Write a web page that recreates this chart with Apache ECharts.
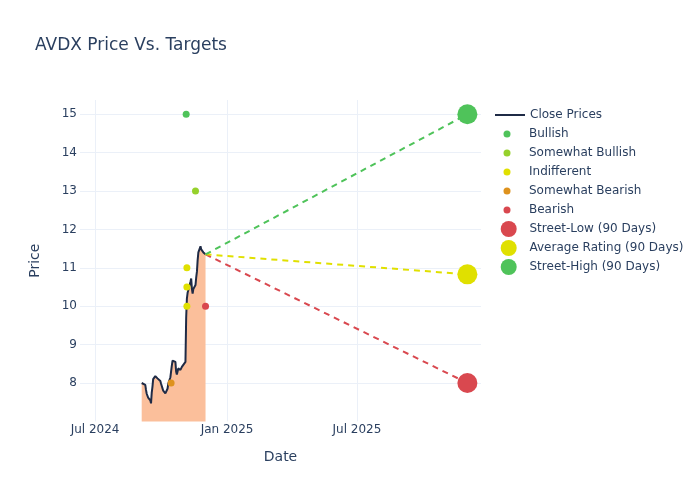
<!DOCTYPE html>
<html>
<head>
<meta charset="utf-8">
<script src="https://cdn.jsdelivr.net/npm/echarts@6/dist/echarts.min.js"></script>
<style>
  html, body { margin: 0; padding: 0; background: #fff; }
  #chart { width: 700px; height: 500px; }
</style>
</head>
<body>
<div id="chart"></div>
<script>
// close prices
const closeDates = [
  '2024-09-04', '2024-09-05', '2024-09-06', '2024-09-09', '2024-09-10', '2024-09-11', '2024-09-12',
  '2024-09-13', '2024-09-16', '2024-09-17', '2024-09-18', '2024-09-19', '2024-09-20', '2024-09-23',
  '2024-09-24', '2024-09-25', '2024-09-26', '2024-09-27', '2024-09-30', '2024-10-01', '2024-10-02',
  '2024-10-03', '2024-10-04', '2024-10-07', '2024-10-08', '2024-10-09', '2024-10-10', '2024-10-11',
  '2024-10-14', '2024-10-15', '2024-10-16', '2024-10-17', '2024-10-18', '2024-10-21', '2024-10-22',
  '2024-10-23', '2024-10-24', '2024-10-25', '2024-10-28', '2024-10-29', '2024-10-30', '2024-10-31',
  '2024-11-01', '2024-11-04', '2024-11-05', '2024-11-06', '2024-11-07', '2024-11-08', '2024-11-11',
  '2024-11-12', '2024-11-13', '2024-11-14', '2024-11-15', '2024-11-18', '2024-11-19', '2024-11-20',
  '2024-11-21', '2024-11-22', '2024-11-25', '2024-11-26', '2024-11-27', '2024-11-29', '2024-12-02'
]
const closePrices = [
  8.00, 7.96, 7.98, 7.95, 7.82, 7.72, 7.70,
  7.62, 7.55, 7.47, 7.75, 7.90, 8.10, 8.18,
  8.22, 8.15, 8.12, 8.14, 8.05, 7.98, 7.92,
  7.86, 7.80, 7.73, 7.70, 7.76, 7.85, 7.98,
  8.15, 8.30, 8.45, 8.58, 8.62, 8.55, 8.30,
  8.22, 8.30, 8.38, 8.34, 8.36, 8.42, 8.40,
  8.45, 8.55, 9.70, 10.20, 10.35, 10.42, 10.64,
  10.72, 10.45, 10.33, 10.45, 10.55, 10.75, 10.90,
  11.20, 11.40, 11.56, 11.48, 11.46, 11.40, 11.35
]

// analyst ratings
const bullish = [['2024-11-05', 15]]
const somewhatBullish = [['2024-11-18', 13]]
const indifferent = [['2024-11-06', 11], ['2024-11-06', 10.5], ['2024-11-06', 10]]
const somewhatBearish = [['2024-10-15', 8]]
const bearish = [['2024-12-02', 10]]

// 90 day targets
const targetDate = '2025-12-02'
const streetLow = 8
const averageRating = 10.83
const streetHigh = 15

const xTicks = ['2024-07-01', '2025-01-01', '2025-07-01']
const xTickLabels = ['Jul 2024', 'Jan 2025', 'Jul 2025']

const txt = '#2a3f5f'
const gridColor = '#ebf0f8'
const font = 'DejaVu Sans'

const ts = (d) => Date.UTC(+d.slice(0, 4), +d.slice(5, 7) - 1, +d.slice(8, 10))
const xTickValues = xTicks.map(ts)

const lastDate = closeDates[closeDates.length - 1]
const lastPrice = closePrices[closePrices.length - 1]

const chart = echarts.init(document.getElementById('chart'))

const smallSeries = [
  { name: 'Bullish', data: bullish, color: '#4fc35a' },
  { name: 'Somewhat Bullish', data: somewhatBullish, color: '#96d12c' },
  { name: 'Indifferent', data: indifferent, color: '#e0e000' },
  { name: 'Somewhat Bearish', data: somewhatBearish, color: '#de921d' },
  { name: 'Bearish', data: bearish, color: '#d9484f' }
]
const bigSeries = [
  { name: 'Street-Low (90 Days)', value: streetLow, color: '#d9484f' },
  { name: 'Average Rating (90 Days)', value: averageRating, color: '#e0e000' },
  { name: 'Street-High (90 Days)', value: streetHigh, color: '#4fc35a' }
]

const series = [
  {
    name: 'Close Prices',
    type: 'line',
    data: closeDates.map((d, i) => [ts(d), closePrices[i]]),
    symbol: 'none',
    lineStyle: { color: '#1f2b46', width: 2 },
    itemStyle: { color: '#1f2b46' },
    areaStyle: { color: '#fbbf9b', opacity: 1, origin: 'start' },
    z: 2
  }
]

// dashed lines from last close to each target
bigSeries.forEach((b) => {
  series.push({
    type: 'line',
    data: [[ts(lastDate), lastPrice], [ts(targetDate), b.value]],
    symbol: 'none',
    lineStyle: { color: b.color, width: 2, type: [6, 5] },
    silent: true,
    z: 3
  })
})

smallSeries.forEach((s) => {
  series.push({
    name: s.name,
    type: 'scatter',
    data: s.data.map((p) => [ts(p[0]), p[1]]),
    symbolSize: 7,
    itemStyle: { color: s.color, opacity: 1 },
    z: 4
  })
})

bigSeries.forEach((b) => {
  series.push({
    name: b.name,
    type: 'scatter',
    data: [[ts(targetDate), b.value]],
    symbolSize: 20,
    itemStyle: { color: b.color, opacity: 1 },
    z: 5
  })
})

// one legend per row so each icon can have its own size
const legendTop = 115
const legendStep = 19
const legends = [
  { data: ['Close Prices'], left: 494, top: legendTop - 7, itemWidth: 30, itemHeight: 2 }
]
smallSeries.forEach((s, i) => {
  legends.push({ data: [{ name: s.name, icon: 'circle' }], left: 503.5, top: legendTop + (i + 1) * legendStep - 7, itemWidth: 34, itemHeight: 7 })
})
bigSeries.forEach((b, i) => {
  legends.push({ data: [{ name: b.name, icon: 'circle' }], left: 500.7, top: legendTop + (i + 6) * legendStep - 8, itemWidth: 31.6, itemHeight: 16 })
})
legends.forEach((l) => {
  l.orient = 'vertical'
  l.padding = 0
  l.selectedMode = false
  l.textStyle = { color: txt, fontSize: 12, fontFamily: font, lineHeight: 14 }
})

const option = {
  animation: false,
  backgroundColor: '#fff',
  title: {
    text: 'AVDX Price Vs. Targets',
    left: 35,
    top: 37,
    padding: 0,
    textStyle: { color: txt, fontSize: 17, fontWeight: 'normal', fontFamily: font }
  },
  legend: legends,
  grid: { left: 80, right: 219, top: 100, bottom: 78.6 },
  xAxis: {
    type: 'value',
    min: ts('2024-06-10'),
    max: ts('2025-12-21'),
    name: 'Date',
    nameLocation: 'middle',
    nameGap: 29,
    nameTextStyle: { color: txt, fontSize: 14, fontFamily: font },
    axisLine: { show: false },
    axisTick: { show: false, customValues: xTickValues },
    axisLabel: {
      color: txt,
      fontSize: 12,
      fontFamily: font,
      margin: 2,
      customValues: xTickValues,
      formatter: (v) => {
        const i = xTickValues.indexOf(v)
        return i >= 0 ? xTickLabels[i] : ''
      }
    },
    splitLine: { show: true, lineStyle: { color: gridColor, width: 1 } }
  },
  yAxis: {
    type: 'value',
    min: 7,
    max: 15.37,
    interval: 1,
    name: 'Price',
    nameLocation: 'middle',
    nameGap: 38,
    nameTextStyle: { color: txt, fontSize: 14, fontFamily: font },
    axisLine: { show: false },
    axisTick: { show: false },
    axisLabel: { color: txt, fontSize: 12, fontFamily: font, margin: 3, showMinLabel: false, showMaxLabel: false },
    splitLine: { show: true, showMinLine: false, showMaxLine: false, lineStyle: { color: gridColor, width: 1 } }
  },
  series: series
}

chart.setOption(option)
</script>
</body>
</html>
